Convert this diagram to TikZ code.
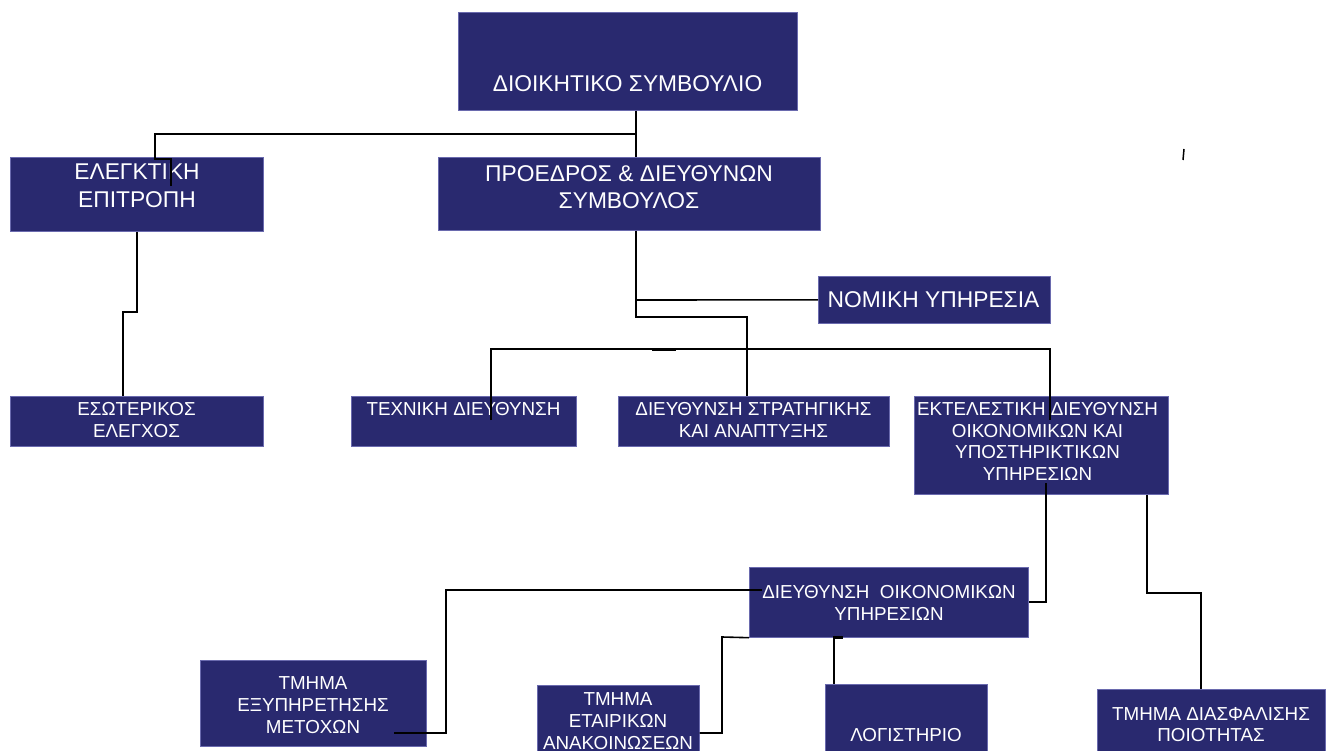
\documentclass[tikz,border=0pt]{standalone}
\usepackage{fontspec}
\setmainfont{Liberation Sans}
\definecolor{unitfill}{HTML}{29296F}
\definecolor{unitline}{HTML}{6A6AAE}
\tikzset{
  unit/.style={rectangle, fill=unitfill, draw=unitline, line width=0.7pt, inner sep=0pt, anchor=north west},
  big/.style={text=white, align=center, font=\fontsize{22.8}{27.5}\selectfont},
  small/.style={text=white, align=center, font=\fontsize{18.8}{21.8}\selectfont},
  link/.style={draw=black, line width=1.6pt}
}
\begin{document}
\begin{tikzpicture}[x=1pt,y=-1pt]
    \useasboundingbox (0,0) rectangle (1330,751);

    % boxes
    \node[unit, minimum width=339pt, minimum height=98pt] (board) at (458,12) {};
    \node[unit, minimum width=253pt, minimum height=74pt] (elegk) at (10,157) {};
    \node[unit, minimum width=382pt, minimum height=73pt] (pres) at (438,157) {};
    \node[unit, minimum width=232pt, minimum height=47pt] (nomiki) at (818,276) {};
    \node[unit, minimum width=253pt, minimum height=50pt] (esot) at (10,396) {};
    \node[unit, minimum width=225pt, minimum height=50pt] (techn) at (351,396) {};
    \node[unit, minimum width=271pt, minimum height=50pt] (strat) at (618,396) {};
    \node[unit, minimum width=254pt, minimum height=98pt] (ektel) at (914,396) {};
    \node[unit, minimum width=279pt, minimum height=70pt] (oikon) at (749,567) {};
    \node[unit, minimum width=226pt, minimum height=86pt] (metox) at (200,660) {};
    \node[unit, minimum width=162pt, minimum height=80pt] (anak) at (537,685) {};
    \node[unit, minimum width=162pt, minimum height=80pt] (logist) at (825,684) {};
    \node[unit, minimum width=228pt, minimum height=75pt] (diasf) at (1097,689) {};

    % texts
    \node[big] (board-t) at (627.5,84) {ΔΙΟΙΚΗΤΙΚΟ ΣΥΜΒΟΥΛΙΟ};
    \node[big] (elegk-t) at (137,186) {ΕΛΕΓΚΤΙΚΗ\\ΕΠΙΤΡΟΠΗ};
    \node[big] (pres-t) at (629,187) {ΠΡΟΕΔΡΟΣ \& ΔΙΕΥΘΥΝΩΝ\\ΣΥΜΒΟΥΛΟΣ};
    \node[big] (nomiki-t) at (933.5,300) {ΝΟΜΙΚΗ ΥΠΗΡΕΣΙΑ};
    \node[small] (esot-t) at (136.5,420) {ΕΣΩΤΕΡΙΚΟΣ\\ΕΛΕΓΧΟΣ};
    \node[small] (techn-t) at (463.5,409) {ΤΕΧΝΙΚΗ ΔΙΕΥΘΥΝΣΗ};
    \node[small] (strat-t) at (753.5,420) {ΔΙΕΥΘΥΝΣΗ ΣΤΡΑΤΗΓΙΚΗΣ\\ΚΑΙ ΑΝΑΠΤΥΞΗΣ};
    \node[small] (ektel-t) at (1037.5,441.5) {ΕΚΤΕΛΕΣΤΙΚΗ ΔΙΕΥΘΥΝΣΗ\\ΟΙΚΟΝΟΜΙΚΩΝ ΚΑΙ\\ΥΠΟΣΤΗΡΙΚΤΙΚΩΝ\\ΥΠΗΡΕΣΙΩΝ};
    \node[small] (oikon-t) at (889,603) {ΔΙΕΥΘΥΝΣΗ\ \ ΟΙΚΟΝΟΜΙΚΩΝ\\ΥΠΗΡΕΣΙΩΝ};
    \node[small] (metox-t) at (313,705) {ΤΜΗΜΑ\\ΕΞΥΠΗΡΕΤΗΣΗΣ\\ΜΕΤΟΧΩΝ};
    \node[small] (anak-t) at (618,721) {ΤΜΗΜΑ\\ΕΤΑΙΡΙΚΩΝ\\ΑΝΑΚΟΙΝΩΣΕΩΝ};
    \node[small] (logist-t) at (906,735) {ΛΟΓΙΣΤΗΡΙΟ};
    \node[small] (diasf-t) at (1211,724.5) {ΤΜΗΜΑ ΔΙΑΣΦΑΛΙΣΗΣ\\ΠΟΙΟΤΗΤΑΣ};

    % connectors
    \coordinate (jtop) at (636,134);
    \coordinate (jlaw) at (636,300);
    \draw[link] (board.south -| jtop) -- (pres.north -| jtop);
    \draw[link] (jtop) -- (155,134) |- (171,159) -- (171,186);
    \draw[link] (elegk.south -| 137,0) -- (137,312) -| (esot.north -| 123,0);
    \draw[link] (pres.south -| jtop) -- (636,317) -| (strat.north -| 747,0);
    \draw[link] (jlaw) -- (nomiki.west);
    \draw[link] (491,420) -- (491,349) -- (1050,349) -- (1050,420);
    \draw[line width=3pt] (652,349) -- (676,349);
    \draw[link] (1046,483) -- (1046,602) -- (oikon.east |- 0,602);
    \draw[link] (ektel.south -| 1147,0) -- (1147,593) -| (diasf.north -| 1201,0);
    \draw[link] (762,590) -- (446,590) |- (394,733);
    \draw[link] (oikon.south west) -- (722,637) |- (anak.east |- 0,733);
    \draw[link] (oikon.south -| 834,0) -- (logist.north -| 834,0);
    \draw[line width=3pt] (833,637) -- (843,637);
    \draw[line width=1.5pt] (1184,149) -- (1183,160);
\end{tikzpicture}
\end{document}
